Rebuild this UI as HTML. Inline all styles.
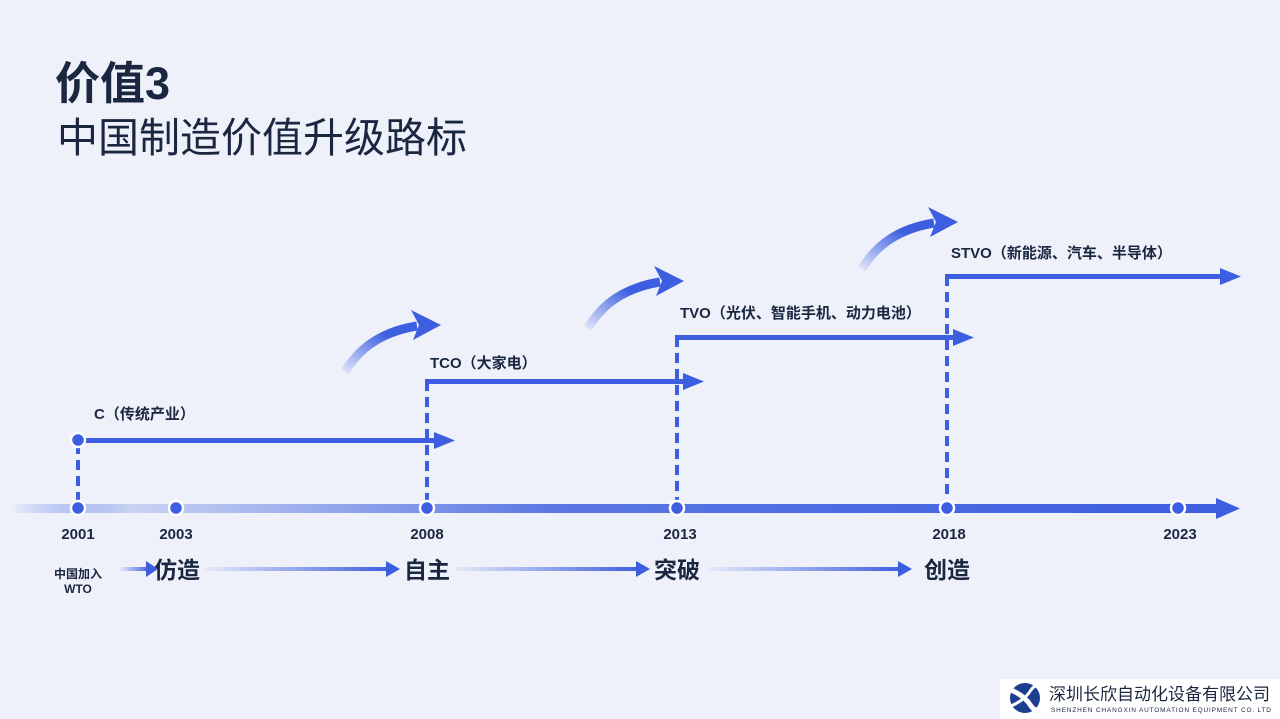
<!DOCTYPE html>
<html><head><meta charset="utf-8"><style>
html,body{margin:0;padding:0;background:#eef1fa;}
svg{display:block;}
text{font-family:"Liberation Sans","Noto Sans CJK SC",sans-serif;fill:#1b2640;}
</style></head><body>
<svg width="1280" height="719" viewBox="0 0 1280 719" xmlns="http://www.w3.org/2000/svg">
<defs>
<linearGradient id="axis" x1="0" y1="0" x2="1" y2="0">
<stop offset="0" stop-color="#3d5ee0" stop-opacity="0"/>
<stop offset="0.1" stop-color="#c9d3f3"/>
<stop offset="0.45" stop-color="#5a77e3"/>
<stop offset="1" stop-color="#3d5ee0"/>
</linearGradient>
<linearGradient id="arr" x1="0" y1="0" x2="1" y2="0">
<stop offset="0" stop-color="#3d5ee0" stop-opacity="0.05"/>
<stop offset="1" stop-color="#3d5ee0"/>
</linearGradient>
<linearGradient id="arc" x1="0" y1="1" x2="1" y2="0">
<stop offset="0" stop-color="#3d5ee0" stop-opacity="0.1"/>
<stop offset="0.7" stop-color="#3d5ee0"/>
</linearGradient>
<g id="curve">
<path d="M0,0 Q22,-38 72,-46" fill="none" stroke="url(#arc)" stroke-width="9"/>
<polygon points="66,-62 96,-47 68,-32 74,-47" fill="#3d5ee0"/>
</g>
</defs>

<text x="55" y="99" font-size="45" font-weight="bold" fill="#14233f">价值3</text>
<text x="57" y="152" font-size="41" fill="#14233f">中国制造价值升级路标</text>

<rect x="10" y="504" width="1210" height="9" fill="url(#axis)"/>
<polygon points="1216,498 1240,508.5 1216,519" fill="#3d5ee0"/>

<g stroke="#3d5ee0" stroke-width="4" stroke-dasharray="10,6" fill="none">
<line x1="78" y1="444" x2="78" y2="505"/>
<line x1="427" y1="381" x2="427" y2="505"/>
<line x1="677" y1="337" x2="677" y2="505"/>
<line x1="947" y1="276" x2="947" y2="505"/>
</g>
<g fill="#3d5ee0">
<rect x="84" y="438" width="350" height="5"/><polygon points="434,432 455,440.5 434,449"/>
<rect x="425" y="379" width="258" height="5"/><polygon points="683,373 704,381.5 683,390"/>
<rect x="675" y="335" width="278" height="5"/><polygon points="953,329 974,337.5 953,346"/>
<rect x="945" y="274" width="275" height="5"/><polygon points="1220,268 1241,276.5 1220,285"/>
</g>

<g fill="#3d5ee0" stroke="#fff" stroke-width="2.5">
<circle cx="78" cy="440" r="7"/>
<circle cx="78" cy="508" r="7"/>
<circle cx="176" cy="508" r="7"/>
<circle cx="427" cy="508" r="7"/>
<circle cx="677" cy="508" r="7"/>
<circle cx="947" cy="508" r="7"/>
<circle cx="1178" cy="508" r="7"/>
</g>

<use href="#curve" transform="translate(345,372)"/>
<use href="#curve" transform="translate(588,328)"/>
<use href="#curve" transform="translate(862,269)"/>

<g font-size="15" font-weight="bold">
<text x="94" y="419">C（传统产业）</text>
<text x="430" y="368">TCO（大家电）</text>
<text x="680" y="318">TVO（光伏、智能手机、动力电池）</text>
<text x="951" y="258">STVO（新能源、汽车、半导体）</text>
</g>
<g font-size="15" font-weight="bold" text-anchor="middle">
<text x="78" y="539">2001</text>
<text x="176" y="539">2003</text>
<text x="427" y="539">2008</text>
<text x="680" y="539">2013</text>
<text x="949" y="539">2018</text>
<text x="1180" y="539">2023</text>
<text x="78" y="578" font-size="12">中国加入</text>
<text x="78" y="593" font-size="12">WTO</text>
</g>
<g font-size="23" font-weight="bold" text-anchor="middle">
<text x="177" y="578">仿造</text>
<text x="427" y="578">自主</text>
<text x="677" y="578">突破</text>
<text x="947" y="578">创造</text>
</g>
<g>
<rect x="120" y="567" width="30" height="4" fill="url(#arr)"/><polygon points="146,561 158,569 146,577" fill="#3d5ee0"/>
<rect x="205" y="567" width="185" height="4" fill="url(#arr)"/><polygon points="386,561 400,569 386,577" fill="#3d5ee0"/>
<rect x="455" y="567" width="185" height="4" fill="url(#arr)"/><polygon points="636,561 650,569 636,577" fill="#3d5ee0"/>
<rect x="708" y="567" width="195" height="4" fill="url(#arr)"/><polygon points="898,561 912,569 898,577" fill="#3d5ee0"/>
</g>

<rect x="1000" y="679" width="280" height="40" fill="#ffffff"/>
<g transform="translate(1025,698)">
<circle r="15" fill="#1d3f8f"/>
<path d="M-14,-8 Q0,-2 6,8 Q10,14 16,12" stroke="#fff" stroke-width="5" fill="none"/>
<path d="M-14,8 Q0,2 6,-8 Q10,-14 16,-12" stroke="#fff" stroke-width="3" fill="none"/>
</g>
<text x="1049" y="700" font-size="17" fill="#1d3f8f">深圳长欣自动化设备有限公司</text>
<text x="1051" y="712" font-size="6.5" fill="#1d3f8f" textLength="220">SHENZHEN CHANGXIN AUTOMATION EQUIPMENT CO. LTD</text>
</svg>
</body></html>
